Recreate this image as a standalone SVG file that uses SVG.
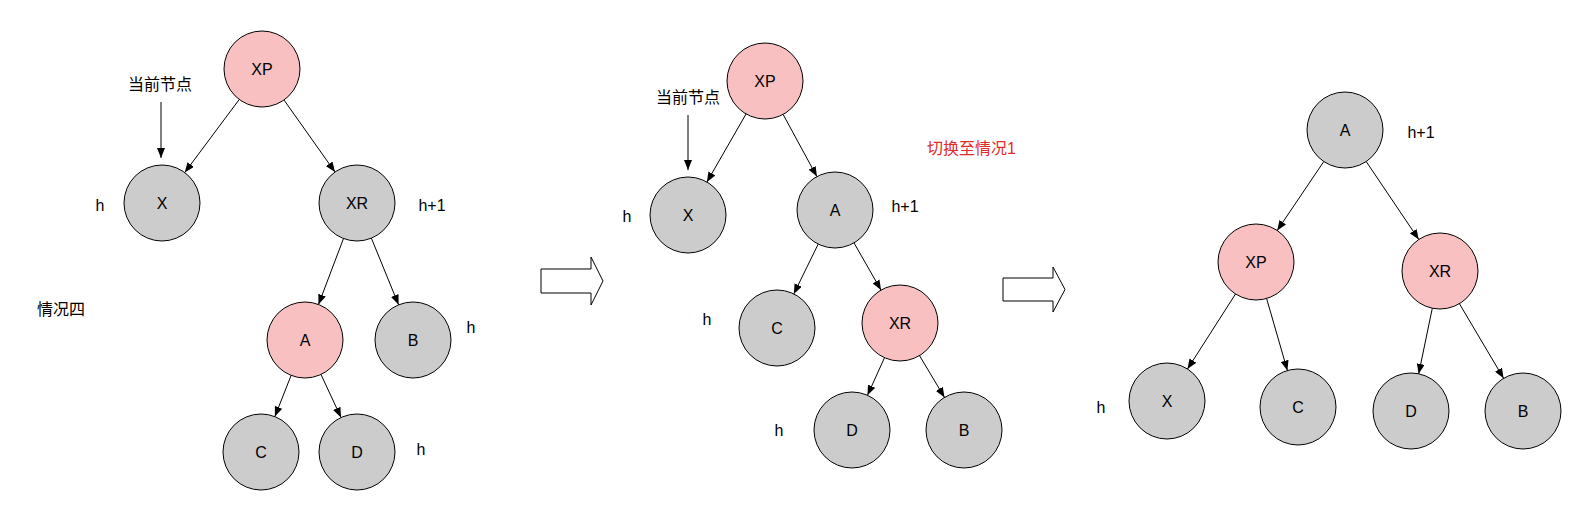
<svg xmlns="http://www.w3.org/2000/svg" width="1584" height="518" viewBox="0 0 1584 518">
<defs>
<marker id="ah" markerUnits="userSpaceOnUse" markerWidth="11" markerHeight="8" refX="10" refY="4" orient="auto">
<path d="M0,0 L10,4 L0,8 z" fill="#000"/>
</marker>
<style>
.n circle{stroke:#000;stroke-width:1}
.g circle{fill:#cccccc}
.p circle{fill:#f8c0c0}
text{font-family:"Liberation Sans",Arial,"Noto Sans CJK SC",sans-serif;font-size:16px;fill:#000}
.n text{text-anchor:middle}
.lbl{text-anchor:middle}
.red{fill:#e02b2b}
#edges line{stroke:#000;stroke-width:1;marker-end:url(#ah)}
.big{fill:#fff;stroke:#000;stroke-width:1}
</style>
</defs>
<rect width="1584" height="518" fill="#fff"/>

<!-- Diagram 1 -->
<g id="d1-XP" class="n p"><circle cx="262" cy="69" r="38"/><text x="262" y="75">XP</text></g>
<g id="d1-X" class="n g"><circle cx="162" cy="203" r="38"/><text x="162" y="209">X</text></g>
<g id="d1-XR" class="n g"><circle cx="357" cy="203" r="38"/><text x="357" y="209">XR</text></g>
<g id="d1-A" class="n p"><circle cx="305" cy="340" r="38"/><text x="305" y="346">A</text></g>
<g id="d1-B" class="n g"><circle cx="413" cy="340" r="38"/><text x="413" y="346">B</text></g>
<g id="d1-C" class="n g"><circle cx="261" cy="452" r="38"/><text x="261" y="458">C</text></g>
<g id="d1-D" class="n g"><circle cx="357" cy="452" r="38"/><text x="357" y="458">D</text></g>

<!-- Diagram 2 -->
<g id="d2-XP" class="n p"><circle cx="765" cy="81" r="38"/><text x="765" y="87">XP</text></g>
<g id="d2-X" class="n g"><circle cx="688" cy="215" r="38"/><text x="688" y="221">X</text></g>
<g id="d2-A" class="n g"><circle cx="835" cy="210" r="38"/><text x="835" y="216">A</text></g>
<g id="d2-C" class="n g"><circle cx="777" cy="328" r="38"/><text x="777" y="334">C</text></g>
<g id="d2-XR" class="n p"><circle cx="900" cy="323" r="38"/><text x="900" y="329">XR</text></g>
<g id="d2-D" class="n g"><circle cx="852" cy="430" r="38"/><text x="852" y="436">D</text></g>
<g id="d2-B" class="n g"><circle cx="964" cy="430" r="38"/><text x="964" y="436">B</text></g>

<!-- Diagram 3 -->
<g id="d3-A" class="n g"><circle cx="1345" cy="130" r="38"/><text x="1345" y="136">A</text></g>
<g id="d3-XP" class="n p"><circle cx="1256" cy="262" r="38"/><text x="1256" y="268">XP</text></g>
<g id="d3-XR" class="n p"><circle cx="1440" cy="271" r="38"/><text x="1440" y="277">XR</text></g>
<g id="d3-X" class="n g"><circle cx="1167" cy="401" r="38"/><text x="1167" y="407">X</text></g>
<g id="d3-C" class="n g"><circle cx="1298" cy="407" r="38"/><text x="1298" y="413">C</text></g>
<g id="d3-D" class="n g"><circle cx="1411" cy="411" r="38"/><text x="1411" y="417">D</text></g>
<g id="d3-B" class="n g"><circle cx="1523" cy="411" r="38"/><text x="1523" y="417">B</text></g>

<g id="edges">
<line x1="239.3" y1="99.4" x2="184.7" y2="172.6"/>
<line x1="284" y1="100" x2="335" y2="172"/>
<line x1="343.5" y1="238.5" x2="318.5" y2="304.5"/>
<line x1="371.4" y1="238.2" x2="398.6" y2="304.8"/>
<line x1="291.1" y1="375.4" x2="274.9" y2="416.6"/>
<line x1="321" y1="374.5" x2="341" y2="417.5"/>
<line x1="161" y1="102" x2="161" y2="158"/>

<line x1="746.1" y1="113.9" x2="706.9" y2="182.1"/>
<line x1="783.1" y1="114.4" x2="816.9" y2="176.6"/>
<line x1="818.2" y1="244.1" x2="793.8" y2="293.9"/>
<line x1="854" y1="242.9" x2="881" y2="290.1"/>
<line x1="884.5" y1="357.7" x2="867.5" y2="395.3"/>
<line x1="919.5" y1="355.6" x2="944.5" y2="397.4"/>
<line x1="688" y1="115" x2="688" y2="170"/>

<line x1="1323.8" y1="161.5" x2="1277.2" y2="230.5"/>
<line x1="1366.2" y1="161.5" x2="1418.8" y2="239.5"/>
<line x1="1235.5" y1="294" x2="1187.5" y2="369"/>
<line x1="1266.6" y1="298.5" x2="1287.4" y2="370.5"/>
<line x1="1432.3" y1="308.2" x2="1418.7" y2="373.8"/>
<line x1="1459.4" y1="303.7" x2="1503.6" y2="378.3"/>
</g>

<g id="big-arrows">
<polygon class="big" points="541,269 591,269 591,257 603,281 591,305 591,293 541,293"/>
<polygon class="big" points="1003,278 1053,278 1053,267 1065,289.5 1053,312 1053,301 1003,301"/>
</g>

<g id="labels">
<text class="lbl" x="160" y="90">当前节点</text>
<text x="37" y="315">情况四</text>
<text class="lbl" x="100" y="211">h</text>
<text class="lbl" x="432" y="211">h+1</text>
<text class="lbl" x="471" y="333">h</text>
<text class="lbl" x="421" y="455">h</text>

<text class="lbl" x="688" y="103">当前节点</text>
<text class="lbl" x="627" y="222">h</text>
<text class="lbl" x="905" y="212">h+1</text>
<text class="red" x="927" y="154">切换至情况1</text>
<text class="lbl" x="707" y="325">h</text>
<text class="lbl" x="779" y="436">h</text>

<text class="lbl" x="1421" y="138">h+1</text>
<text class="lbl" x="1101" y="413">h</text>
</g>
</svg>
